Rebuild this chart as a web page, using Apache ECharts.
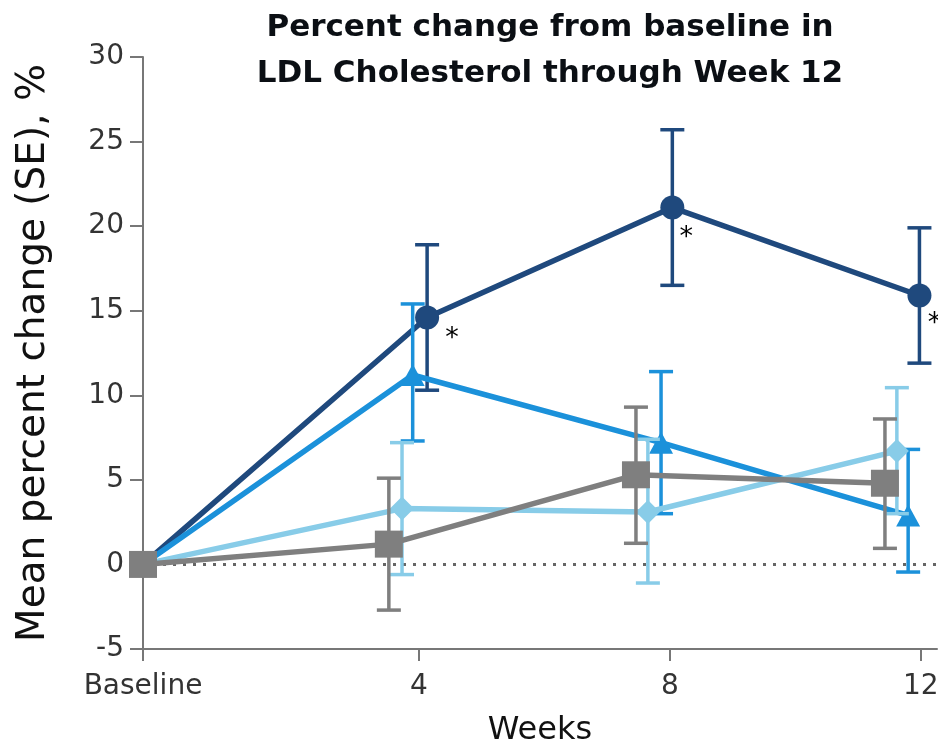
<!DOCTYPE html>
<html>
<head>
<meta charset="utf-8">
<script src="https://cdn.jsdelivr.net/npm/echarts@6/dist/echarts.min.js"></script>
<style>
html,body{margin:0;padding:0;background:#fff;}
#chart{width:938px;height:746px;}
</style>
</head>
<body>
<div id="chart"></div>
<script>
// Tick positions on the week axis and their labels
const tickWeeks = [-0.4, 4, 8, 12];
const tickLabels = ['Baseline', '4', '8', '12'];

// Plotted (dodged) week positions
const xDark   = [-0.4, 4.13, 8.04, 11.98];
const xMedium = [-0.4, 3.90, 7.86, 11.80];
const xLight  = [-0.4, 3.73, 7.65, 11.62];
const xGray   = [-0.4, 3.52, 7.46, 11.43];

// Mean percent change and SE bounds
const meanDark   = [0, 14.6, 21.1, 15.9];
const lowDark    = [null, 10.3, 16.5, 11.9];
const highDark   = [null, 18.9, 25.7, 19.9];

const meanMedium = [0, 11.2, 7.2, 2.9];
const lowMedium  = [null, 7.3, 3.0, -0.45];
const highMedium = [null, 15.4, 11.4, 6.8];

const meanLight  = [0, 3.3, 3.1, 6.7];
const lowLight   = [null, -0.6, -1.1, 3.0];
const highLight  = [null, 7.2, 7.4, 10.45];

const meanGray   = [0, 1.2, 5.3, 4.8];
const lowGray    = [null, -2.7, 1.25, 0.95];
const highGray   = [null, 5.1, 9.3, 8.6];

// significance markers on the dark series
const sigDark = ['', '*', '*', '*'];

const FONT = 'DejaVu Sans';

function pts(xs, ys) { return xs.map((x, i) => [x, ys[i]]); }
function bars(xs, lo, hi) {
  const out = [];
  xs.forEach((x, i) => { if (lo[i] !== null) out.push([x, lo[i], hi[i]]); });
  return out;
}

function errSeries(name, xs, lo, hi, color, z) {
  return {
    type: 'custom',
    name: name + ' SE',
    z: z,
    silent: true,
    data: bars(xs, lo, hi),
    renderItem: function (params, api) {
      const x = api.value(0);
      const pHi = api.coord([x, api.value(2)]);
      const pLo = api.coord([x, api.value(1)]);
      const hw = 12;
      const style = { stroke: color, lineWidth: 3.5, fill: null };
      return {
        type: 'group',
        children: [
          { type: 'line', shape: { x1: pHi[0], y1: pHi[1], x2: pLo[0], y2: pLo[1] }, style: style },
          { type: 'line', shape: { x1: pHi[0] - hw, y1: pHi[1], x2: pHi[0] + hw, y2: pHi[1] }, style: style },
          { type: 'line', shape: { x1: pLo[0] - hw, y1: pLo[1], x2: pLo[0] + hw, y2: pLo[1] }, style: style }
        ]
      };
    }
  };
}

function lineSeries(name, xs, ys, color, symbol, size, z, extra) {
  return Object.assign({
    type: 'line',
    name: name,
    z: z,
    data: pts(xs, ys),
    symbol: symbol,
    symbolSize: size,
    showAllSymbol: true,
    lineStyle: { color: color, width: 5.5 },
    itemStyle: { color: color, borderWidth: 0 },
    emphasis: { disabled: true }
  }, extra || {});
}

const starOffsets = [[0, 0], [25, 22], [14, 30], [15, 28]];
const darkData = pts(xDark, meanDark).map((p, i) => ({
  value: p,
  label: {
    show: sigDark[i] !== '',
    formatter: sigDark[i],
    position: 'inside',
    offset: starOffsets[i],
    color: '#000',
    fontSize: 27,
    fontFamily: FONT
  }
}));

const option = {
  animation: false,
  backgroundColor: '#fff',
  title: {
    text: 'Percent change from baseline in\nLDL Cholesterol through Week 12',
    left: 545,
    top: 0,
    textAlign: 'center',
    textStyle: {
      fontFamily: FONT,
      fontWeight: 'bold',
      fontSize: 31,
      lineHeight: 46,
      color: '#0b0f14'
    }
  },
  grid: { left: 143, right: 1, top: 57, bottom: 97, containLabel: false, outerBoundsMode: 'none' },
  xAxis: {
    type: 'value',
    min: -0.4,
    max: 12.26,
    name: 'Weeks',
    nameLocation: 'middle',
    nameGap: 66,
    nameTextStyle: { fontFamily: FONT, fontSize: 32, color: '#111' },
    splitLine: { show: false },
    axisLine: { onZero: false, lineStyle: { color: '#777', width: 2 } },
    axisTick: { show: true, customValues: tickWeeks, length: 12, lineStyle: { color: '#777', width: 2 } },
    axisLabel: {
      customValues: tickWeeks,
      margin: 24,
      fontFamily: FONT,
      fontSize: 28,
      color: '#333',
      formatter: function (v) {
        const i = tickWeeks.findIndex(t => Math.abs(t - v) < 1e-6);
        return i >= 0 ? tickLabels[i] : '';
      }
    }
  },
  yAxis: {
    type: 'value',
    min: -5,
    max: 30,
    interval: 5,
    name: 'Mean percent change (SE), %',
    nameLocation: 'middle',
    nameGap: 90,
    nameTextStyle: { fontFamily: FONT, fontSize: 39, color: '#111' },
    splitLine: { show: false },
    axisLine: { show: true, onZero: false, lineStyle: { color: '#777', width: 2 } },
    axisTick: { show: true, length: 13, lineStyle: { color: '#777', width: 2 } },
    axisLabel: { margin: 19, fontFamily: FONT, fontSize: 28, color: '#333' }
  },
  series: [
    errSeries('Dark', xDark, lowDark, highDark, '#1F497D', 2),
    lineSeries('Dark', xDark, meanDark, '#1F497D', 'circle', 24, 3, {
      data: darkData,
      markLine: {
        silent: true,
        symbol: 'none',
        label: { show: false },
        lineStyle: { color: '#666', width: 3, type: [3, 7] },
        data: [{ yAxis: 0 }]
      }
    }),
    errSeries('Medium', xMedium, lowMedium, highMedium, '#1B91DA', 4),
    lineSeries('Medium', xMedium, meanMedium, '#1B91DA', 'triangle', [24, 22], 5),
    errSeries('Light', xLight, lowLight, highLight, '#88CCE8', 6),
    lineSeries('Light', xLight, meanLight, '#88CCE8', 'diamond', [24, 24], 7),
    errSeries('Gray', xGray, lowGray, highGray, '#7F7F7F', 8),
    lineSeries('Gray', xGray, meanGray, '#7F7F7F', 'rect', [28, 27], 9)
  ]
};

const chart = echarts.init(document.getElementById('chart'), null, { renderer: 'canvas' });
chart.setOption(option);
</script>
</body>
</html>
